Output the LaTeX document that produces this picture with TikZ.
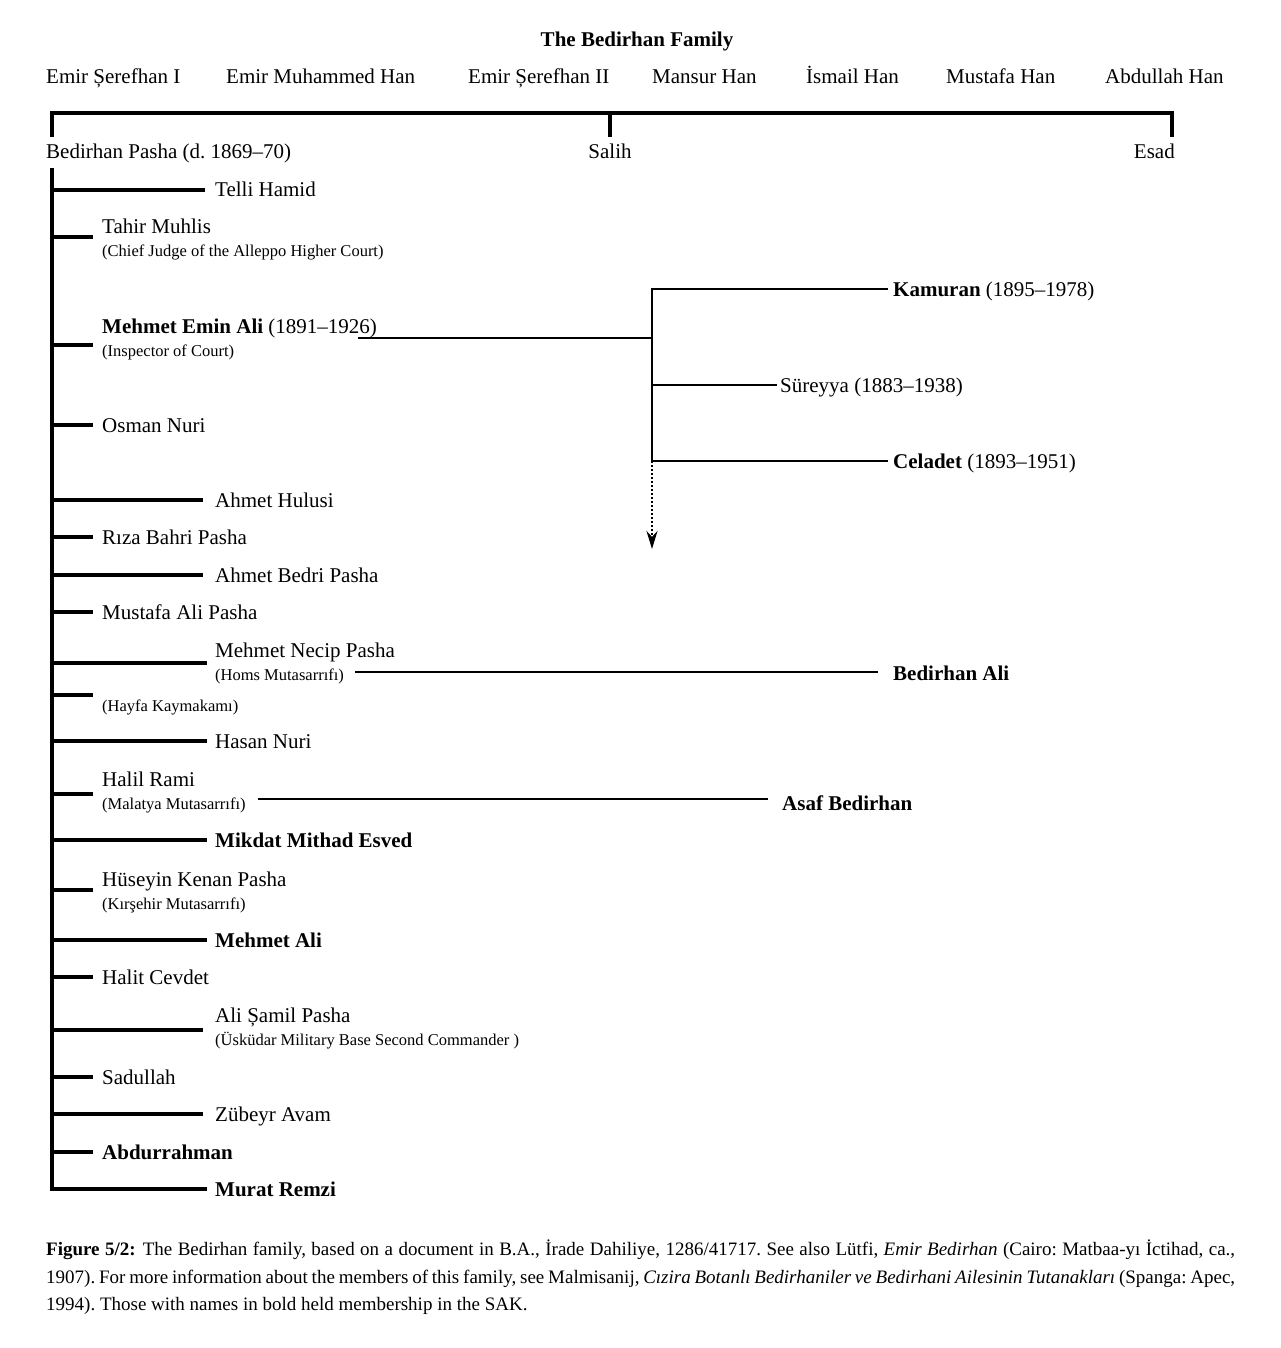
\documentclass[tikz,border=0pt]{standalone}
\usepackage{fontspec}
\setmainfont{Liberation Serif}
\usetikzlibrary{arrows.meta}
\newcommand\mainsz{\fontsize{21}{25}\selectfont}
\newcommand\subsz{\fontsize{16.5}{19}\selectfont}
\newcommand\capsz{\fontsize{19}{27}\selectfont}
\frenchspacing
\tikzset{
  thickline/.style={line width=4.5pt},
  thinline/.style={line width=2pt},
  person/.style={anchor=base west, inner xsep=10pt, inner ysep=0pt, font=\mainsz},
  boldperson/.style={person, font=\mainsz\bfseries},
  note/.style={anchor=base west, inner xsep=10pt, inner ysep=0pt, font=\subsz},
  grand/.style={anchor=base west, inner xsep=#1, inner ysep=0pt, font=\mainsz},
  ancestor/.style={anchor=base west, inner sep=0pt, font=\mainsz},
  captionline/.style={anchor=base west, inner sep=0pt, font=\capsz},
}
\begin{document}
\frenchspacing
\begin{tikzpicture}[x=1pt,y=-1pt]
\useasboundingbox[fill=white] (0,0) rectangle (1280,1348);

% title and ancestors
\node[font=\mainsz\bfseries, anchor=base, inner sep=0pt] (title) at (637,47) {The Bedirhan Family};
\node[ancestor] (a1) at (46,84) {Emir Șerefhan I};
\node[ancestor] (a2) at (226,84) {Emir Muhammed Han};
\node[ancestor] (a3) at (468,84) {Emir Șerefhan II};
\node[ancestor] (a4) at (652,84) {Mansur Han};
\node[ancestor] (a5) at (806,84) {İsmail Han};
\node[ancestor] (a6) at (946,84) {Mustafa Han};
\node[ancestor] (a7) at (1105,84) {Abdullah Han};

% bracket
\node[ancestor] (bp) at (46,159) {Bedirhan Pasha (d.~1869–70)};
\node[ancestor, anchor=base] (salih) at (610,159) {Salih};
\node[ancestor, anchor=base east] (esad) at (1175,159) {Esad};
\coordinate (top) at (0,113);
\coordinate (brL) at (52,137);
\coordinate (brS) at (610,137);
\coordinate (brR) at (1172,137);
\draw[thickline] (brL) -- (brL |- top) -- (brR |- top) -- (brR);
\draw[thickline] (brS |- top) -- (brS);

% children
\coordinate (trunkTop) at (52,168);
\coordinate (e1) at (205,190);  \node[person] (telli) at (205,197) {Telli Hamid};
\coordinate (e2) at (93,237);   \node[person] (tahir) at (92,234) {Tahir Muhlis};
                                \node[note] (tahirn) at (92,257) {(Chief Judge of the Alleppo Higher Court)};
\coordinate (e3) at (93,345);   \node[person] (mea) at (92,333) {\textbf{Mehmet Emin Ali} (1891–1926)};
                                \node[note] (mean) at (92,356) {(Inspector of Court)};
\coordinate (e4) at (93,425);   \node[person] (osman) at (92,432) {Osman Nuri};
\coordinate (e5) at (203,500);  \node[person] (hulusi) at (205,507) {Ahmet Hulusi};
\coordinate (e6) at (93,537);   \node[person] (riza) at (92,544) {Rıza Bahri Pasha};
\coordinate (e7) at (203,575);  \node[person] (bedri) at (205,582) {Ahmet Bedri Pasha};
\coordinate (e8) at (93,612);   \node[person] (mustafa) at (92,619) {Mustafa Ali Pasha};
\coordinate (e9) at (207,663);  \node[person] (necip) at (205,657) {Mehmet Necip Pasha};
                                \node[note] (necipn) at (205,680) {(Homs Mutasarrıfı)};
\coordinate (e10) at (93,695);  \node[note] (hayfa) at (92,711) {(Hayfa Kaymakamı)};
\coordinate (e11) at (207,741); \node[person] (hasan) at (205,748) {Hasan Nuri};
\coordinate (e12) at (93,794);  \node[person] (halil) at (92,786) {Halil Rami};
                                \node[note] (haliln) at (92,809) {(Malatya Mutasarrıfı)};
\coordinate (e13) at (207,840); \node[boldperson] (mikdat) at (205,847) {Mikdat Mithad Esved};
\coordinate (e14) at (93,890);  \node[person] (huseyin) at (92,886) {Hüseyin Kenan Pasha};
                                \node[note] (huseyinn) at (92,909) {(Kırşehir Mutasarrıfı)};
\coordinate (e15) at (207,940); \node[boldperson] (mehmetali) at (205,947) {Mehmet Ali};
\coordinate (e16) at (93,977);  \node[person] (halit) at (92,984) {Halit Cevdet};
\coordinate (e17) at (203,1030);\node[person] (samil) at (205,1022) {Ali Șamil Pasha};
                                \node[note] (samiln) at (205,1045) {(Üsküdar Military Base Second Commander~)};
\coordinate (e18) at (93,1077); \node[person] (sadullah) at (92,1084) {Sadullah};
\coordinate (e19) at (203,1114);\node[person] (zubeyr) at (205,1121) {Zübeyr Avam};
\coordinate (e20) at (93,1152); \node[boldperson] (abdur) at (92,1159) {Abdurrahman};
\coordinate (e21) at (207,1189);\node[boldperson] (murat) at (205,1196) {Murat Remzi};

\draw[thickline] (trunkTop) |- (e21);
\foreach \i in {1,...,20} {
  \draw[thickline] (trunkTop |- e\i) -- (e\i);
}

% grandchildren of Mehmet Emin Ali
\node[grand=5pt] (kamuran) at (888,296) {\textbf{Kamuran} (1895–1978)};
\node[grand=3pt] (sureyya) at (777,392) {Süreyya (1883–1938)};
\node[grand=5pt] (celadet) at (888,468) {\textbf{Celadet} (1893–1951)};
\coordinate (meaout) at (358,338);
\coordinate (fork) at (652,338);
\coordinate (forkTop) at (652,289);
\coordinate (forkMid) at (652,385);
\coordinate (forkBot) at (652,461);
\coordinate (arrowEnd) at (652,549);
\draw[thinline] (meaout) -- (fork);
\draw[thinline] (forkBot) -- (forkTop) -- (forkTop -| kamuran.west);
\draw[thinline] (forkMid) -- (forkMid -| sureyya.west);
\draw[thinline] (forkBot) -- (forkBot -| celadet.west);
\draw[thinline, dash pattern=on 2pt off 2pt, -{Stealth[length=18pt, width=11pt]}] (forkBot) -- (arrowEnd);

% other grandchildren
\node[grand=15pt, font=\mainsz\bfseries] (bali) at (878,680) {Bedirhan Ali};
\coordinate (necipOut) at (355,672);
\draw[thinline] (necipOut) -- (necipOut -| bali.west);
\node[grand=14pt, font=\mainsz\bfseries] (asaf) at (768,810) {Asaf Bedirhan};
\coordinate (halilOut) at (258,799);
\draw[thinline] (halilOut) -- (halilOut -| asaf.west);

% caption
\node[captionline] (cap1) at (46,1255) {\makebox[1189pt][s]{\textbf{Figure 5/2:}\hspace{7pt}The Bedirhan family, based on a document in B.A., İrade Dahiliye, 1286/41717. See also Lütfi, \textit{Emir Bedirhan} (Cairo: Matbaa-yı İctihad, ca.,}};
\node[captionline] (cap2) at (46,1283) {\makebox[1189pt][s]{1907). For more information about the members of this family, see Malmisanij, \textit{Cızira Botanlı Bedirhaniler ve Bedirhani Ailesinin Tutanakları} (Spanga: Apec,}};
\node[captionline] (cap3) at (46,1310) {1994). Those with names in bold held membership in the SAK.};
\end{tikzpicture}
\end{document}
